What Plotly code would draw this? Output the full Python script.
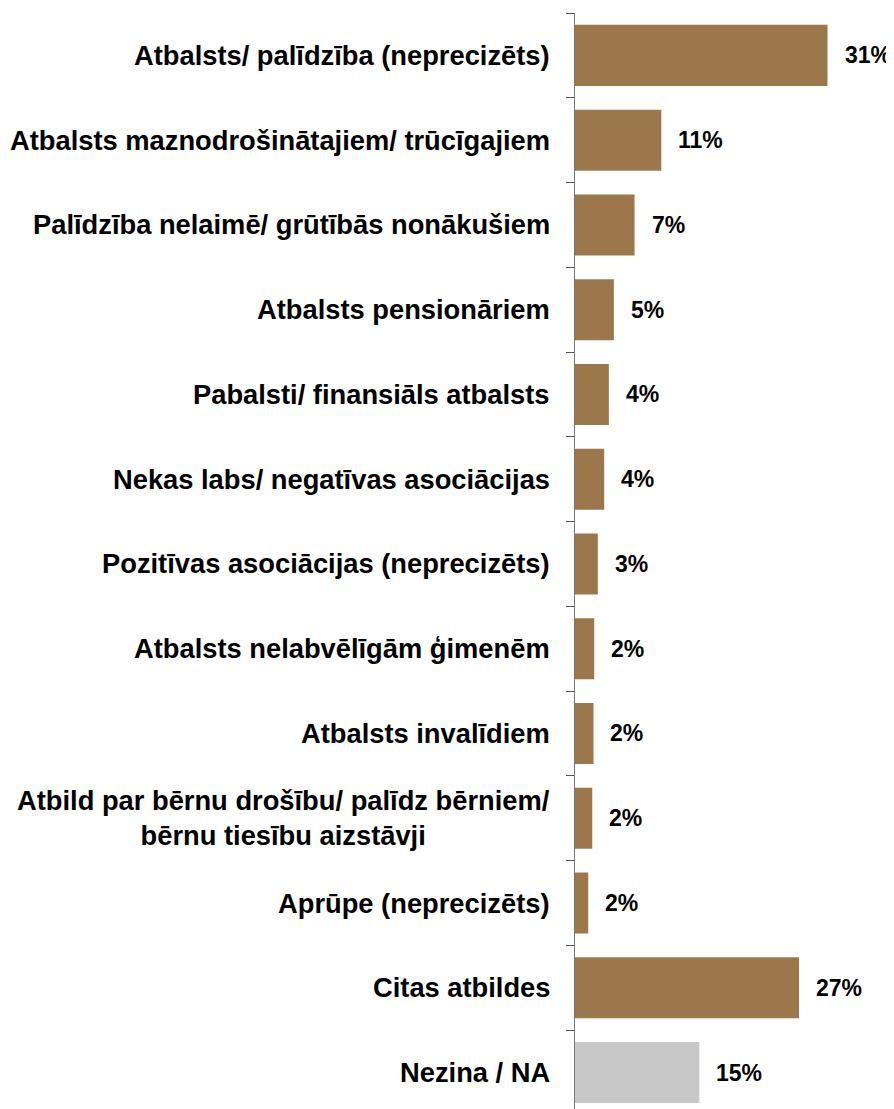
import plotly.graph_objects as go

categories = [
    "Atbalsts/ palīdzība (neprecizēts)",
    "Atbalsts maznodrošinātajiem/ trūcīgajiem",
    "Palīdzība nelaimē/ grūtībās nonākušiem",
    "Atbalsts pensionāriem",
    "Pabalsti/ finansiāls atbalsts",
    "Nekas labs/ negatīvas asociācijas",
    "Pozitīvas asociācijas (neprecizēts)",
    "Atbalsts nelabvēlīgām ģimenēm",
    "Atbalsts invalīdiem",
    "Atbild par bērnu drošību/ palīdz bērniem/<br>bērnu tiesību aizstāvji",
    "Aprūpe (neprecizēts)",
    "Citas atbildes",
    "Nezina / NA",
]
values = [30.87, 10.55, 7.28, 4.75, 4.14, 3.57, 2.79, 2.35, 2.26, 2.11, 1.62, 27.39, 15.2]
value_labels = ["31%", "11%", "7%", "5%", "4%", "4%", "3%", "2%", "2%", "2%", "2%", "27%", "15%"]
bar_colors = ["#9C774C"] * 12 + ["#C8C8C8"]

FONT = "Liberation Sans, Arial, sans-serif"

fig = go.Figure()
fig.add_trace(go.Bar(
    y=categories,
    x=values,
    orientation="h",
    marker=dict(color=bar_colors, line=dict(width=0)),
    hoverinfo="skip",
))

annotations = []
for c, v, t in zip(categories, values, value_labels):
    annotations.append(dict(
        x=v, y=c, xref="x", yref="y", text=t, showarrow=False,
        xanchor="left", yanchor="middle", xshift=15,
        font=dict(family=FONT, size=23, color="#000000", weight="bold"),
    ))
    annotations.append(dict(
        x=0, y=c, xref="paper", yref="y", text=c, showarrow=False,
        xanchor="right", yanchor="middle", xshift=-23, align="center",
        font=dict(family=FONT, size=27.3, color="#000000", weight="bold"),
    ))

fig.update_layout(
    width=886, height=1101,
    margin=dict(l=567, r=0, t=5, b=0, pad=0),
    paper_bgcolor="white", plot_bgcolor="white",
    bargap=0.28,
    showlegend=False,
    annotations=annotations,
    xaxis=dict(
        range=[0, 39.0], visible=False, showgrid=False, zeroline=False,
    ),
    yaxis=dict(
        type="category",
        categoryorder="array", categoryarray=categories,
        range=[12.43, -0.5],
        showticklabels=False,
        tickson="boundaries",
        ticks="outside", ticklen=8, tickwidth=1, tickcolor="#555555",
        showline=True, linecolor="#777777", linewidth=1,
        showgrid=False, zeroline=False,
    ),
)

fig.write_html("out.html")
